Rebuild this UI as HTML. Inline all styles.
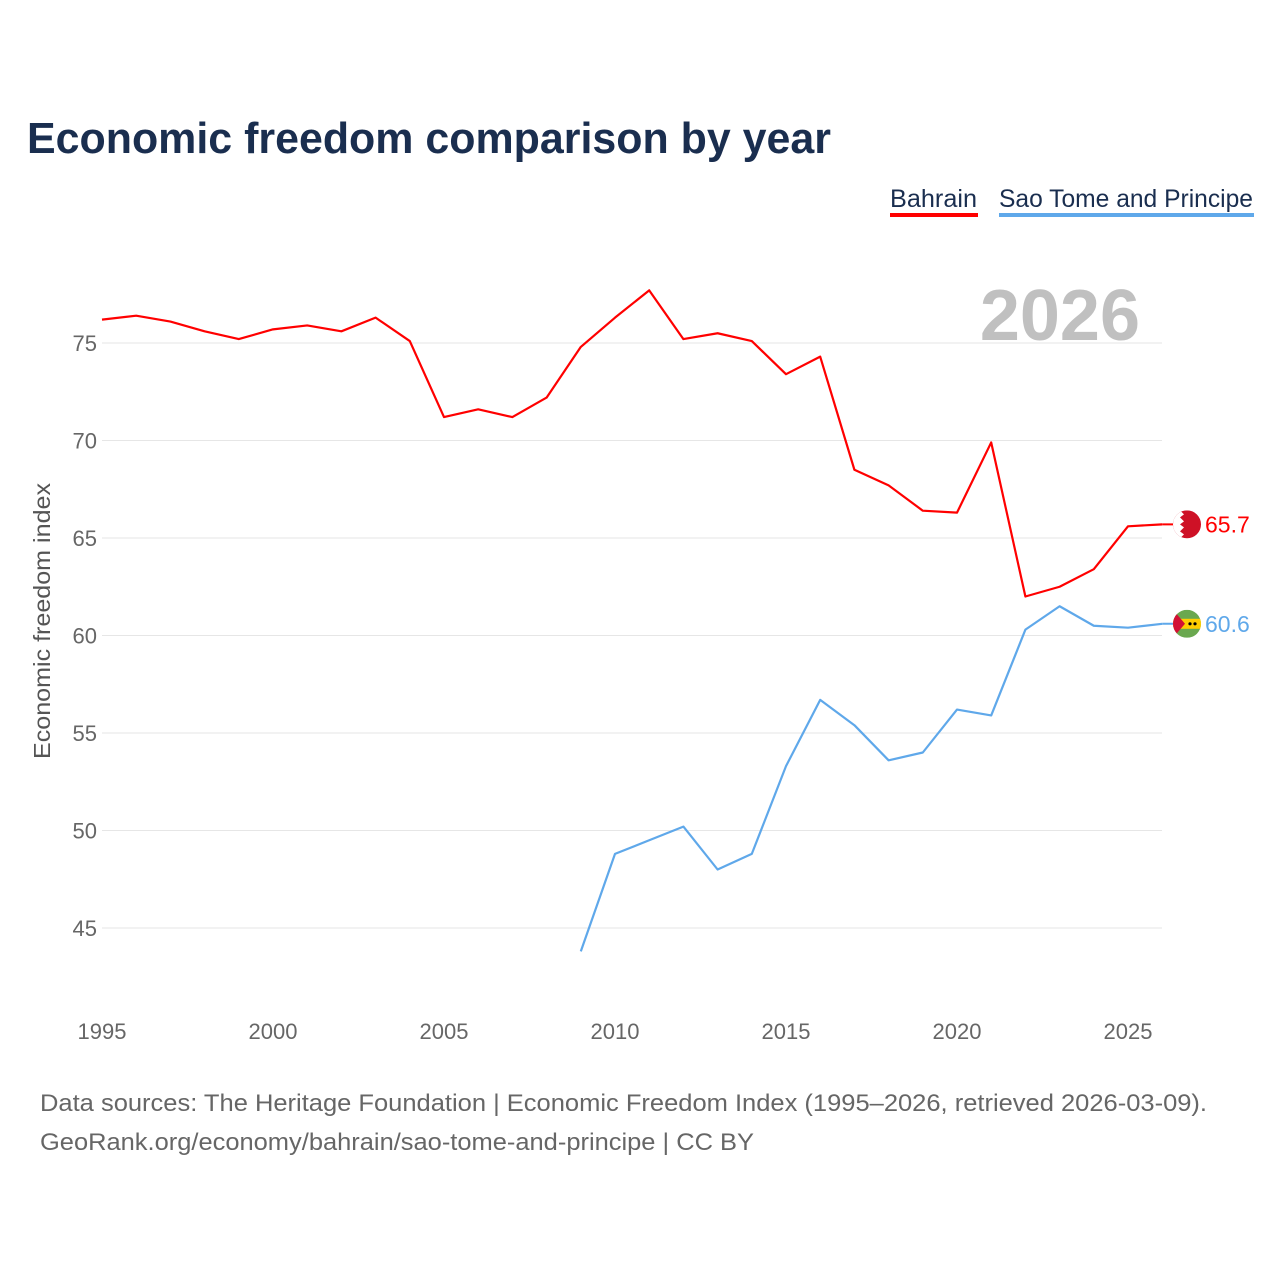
<!DOCTYPE html>
<html><head><meta charset="utf-8">
<style>
body{margin:0;background:#fff;font-family:"Liberation Sans",sans-serif;}
svg text{font-family:"Liberation Sans",sans-serif;}
</style></head>
<body>
<svg width="1280" height="1280" viewBox="0 0 1280 1280" xmlns="http://www.w3.org/2000/svg">
<text x="27" y="153" font-size="44" font-weight="bold" fill="#1a2e4f" textLength="804" lengthAdjust="spacingAndGlyphs">Economic freedom comparison by year</text>
<g>
<g><text x="890" y="207" font-size="25" fill="#1a2e4f" textLength="87" lengthAdjust="spacingAndGlyphs">Bahrain</text><rect x="890" y="213" width="88" height="4" fill="#ff0000"/></g>
<g><text x="999" y="207" font-size="25" fill="#1a2e4f" textLength="254" lengthAdjust="spacingAndGlyphs">Sao Tome and Principe</text><rect x="999" y="213" width="255" height="4" fill="#5fa8ea"/></g>
</g>
<text x="1140" y="340" font-size="72" font-weight="bold" fill="#c0c0c0" text-anchor="end">2026</text>
<g id="grid"></g><g id="xt"></g>
<text transform="translate(50,621) rotate(-90)" font-size="23" fill="#555" text-anchor="middle" textLength="276" lengthAdjust="spacingAndGlyphs">Economic freedom index</text>
<g id="series"></g>
<text x="40" y="1111" font-size="24" fill="#666" textLength="1167" lengthAdjust="spacingAndGlyphs">Data sources: The Heritage Foundation | Economic Freedom Index (1995–2026, retrieved 2026-03-09).</text>
<text x="40" y="1150" font-size="24" fill="#666" textLength="714" lengthAdjust="spacingAndGlyphs">GeoRank.org/economy/bahrain/sao-tome-and-principe | CC BY</text>
</svg>
<script>
const yTicks=[45,50,55,60,65,70,75];
const xTicks=[1995,2000,2005,2010,2015,2020,2025];
const bahrainYears=[1995,1996,1997,1998,1999,2000,2001,2002,2003,2004,2005,2006,2007,2008,2009,2010,2011,2012,2013,2014,2015,2016,2017,2018,2019,2020,2021,2022,2023,2024,2025,2026];
const bahrainValues=[76.2,76.4,76.1,75.6,75.2,75.7,75.9,75.6,76.3,75.1,71.2,71.6,71.2,72.2,74.8,76.3,77.7,75.2,75.5,75.1,73.4,74.3,68.5,67.7,66.4,66.3,69.9,62.0,62.5,63.4,65.6,65.7];
const stpYears=[2009,2010,2011,2012,2013,2014,2015,2016,2017,2018,2019,2020,2021,2022,2023,2024,2025,2026];
const stpValues=[43.8,48.8,49.5,50.2,48.0,48.8,53.3,56.7,55.4,53.6,54.0,56.2,55.9,60.3,61.5,60.5,60.4,60.6];
const NS='http://www.w3.org/2000/svg';
const X=y=>102+(y-1995)*(1128-102)/30;
const Y=v=>343+(75-v)*19.5;
const mk=(t,a,p)=>{const e=document.createElementNS(NS,t);for(const k in a)e.setAttribute(k,a[k]);p.appendChild(e);return e;};
const grid=document.getElementById('grid');
yTicks.forEach(v=>{
 const l=mk('line',{x1:102,x2:1162,y1:Y(v),y2:Y(v),stroke:'#e6e6e6','stroke-width':1},grid);
 
 
 const t=mk('text',{x:97,y:Y(v)+8,'font-size':22,fill:'#666','text-anchor':'end'},grid);t.textContent=v;
 
 
});
const xt=document.getElementById('xt');
xTicks.forEach(v=>{
 const t=mk('text',{x:X(v),y:1039,'font-size':22,fill:'#666','text-anchor':'middle'},xt);t.textContent=v;
 
 
});
const s=document.getElementById('series');
function draw(years,vals,color,name,label){
 const p=mk('polyline',{points:years.map((y,i)=>X(y)+','+Y(vals[i])).join(' '),fill:'none',stroke:color,'stroke-width':2.2,'stroke-linejoin':'round'},s);
 
 
 const lx=X(years[years.length-1]),ly=Y(vals[vals.length-1]);
 mk('line',{x1:lx,x2:1187,y1:ly,y2:ly,stroke:color,'stroke-width':2},s);
 const g=mk('g',{},s);
 
 
 const clipId='clip-'+name;
 const cp=mk('clipPath',{id:clipId},g);mk('circle',{cx:1187,cy:ly,r:14},cp);
 const inner=mk('g',{'clip-path':'url(#'+clipId+')'},g);
 if(name==='bahrain'){
  mk('rect',{x:1173,y:ly-14,width:28,height:28,fill:'#ce1126'},inner);
  mk('polygon',{points:`1173,${ly-14} 1180,${ly-14} 1184,${ly-10} 1180,${ly-7} 1184,${ly-3} 1180,${ly} 1184,${ly+3} 1180,${ly+7} 1184,${ly+10} 1180,${ly+14} 1173,${ly+14}`,fill:'#fff'},inner);
 }else{
  mk('rect',{x:1173,y:ly-14,width:28,height:28,fill:'#6aa84f'},inner);
  mk('rect',{x:1173,y:ly-5,width:28,height:10,fill:'#ffce00'},inner);
  mk('polygon',{points:`1173,${ly-14} 1185,${ly} 1173,${ly+14}`,fill:'#d21034'},inner);
  mk('circle',{cx:1190,cy:ly,r:1.6,fill:'#000'},inner);mk('circle',{cx:1195,cy:ly,r:1.6,fill:'#000'},inner);
 }
 const t=mk('text',{x:1205,y:ly+8,'font-size':23,fill:color},s);t.textContent=label;
 
 
}
draw(bahrainYears,bahrainValues,'#ff0000','bahrain','65.7');
draw(stpYears,stpValues,'#5fa8ea','sao-tome','60.6');
</script>
</body></html>
